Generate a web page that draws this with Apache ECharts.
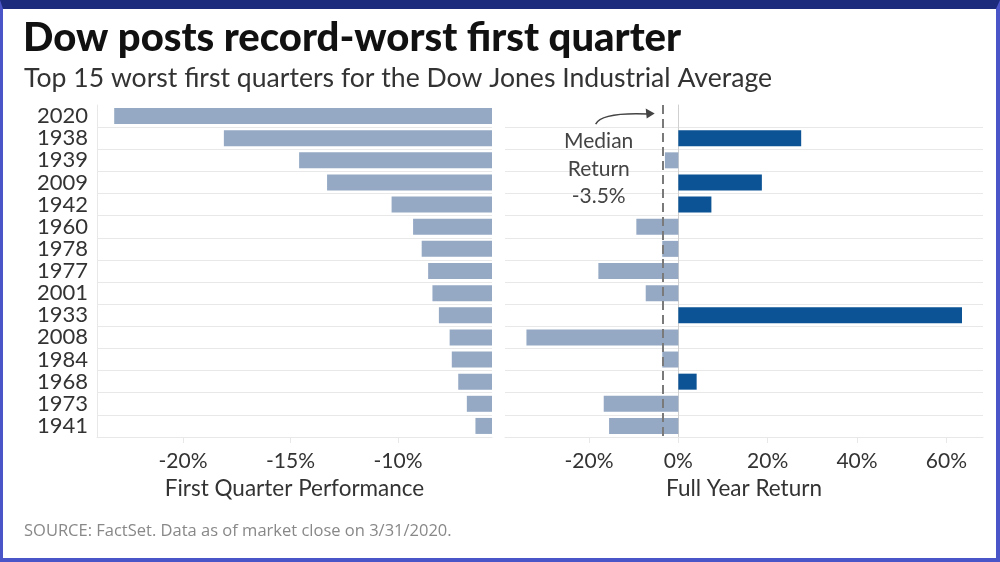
<!DOCTYPE html>
<html>
<head>
<meta charset="utf-8">
<script src="https://cdn.jsdelivr.net/npm/echarts@6/dist/echarts.min.js"></script>
<style>
html,body{margin:0;padding:0;background:#fff;}
#chart{width:1000px;height:562px;}
</style>
</head>
<body>
<div id="chart"></div>
<script>
const years = ['2020','1938','1939','2009','1942','1960','1978','1977','2001','1933','2008','1984','1968','1973','1941'];
const firstQuarter = [-23.2,-18.1,-14.6,-13.3,-10.3,-9.3,-8.9,-8.6,-8.4,-8.1,-7.6,-7.5,-7.2,-6.8,-6.4];
const fullYear = [null,27.5,-3.0,18.7,7.4,-9.4,-3.6,-17.9,-7.3,63.5,-34.0,-3.6,4.1,-16.7,-15.5];
const medianReturn = -3.5;
const leftTicks = [-20,-15,-10];
const rightTicks = [-20,0,20,40,60];
const title = 'Dow posts record-worst first quarter';
const subtitle = 'Top 15 worst first quarters for the Dow Jones Industrial Average';
const source = 'SOURCE: FactSet. Data as of market close on 3/31/2020.';

const POS = '#0b5394', NEG = '#95a9c4';
const FONT = 'Lato, "Open Sans", sans-serif';
const GRID_LINE = '#e8e8e8';

const chart = echarts.init(document.getElementById('chart'));
const option = {
  animation: false,
  backgroundColor: '#fff',
  title: [
    {text: title, left: 18, top: 13, textStyle: {fontFamily: FONT, fontSize: 40, fontWeight: 900, color: '#111'}},
    {text: subtitle, left: 19, top: 60, textStyle: {fontFamily: FONT, fontSize: 26.6, fontWeight: 'normal', color: '#333'}},
    {text: source, left: 19, top: 518, textStyle: {fontFamily: '"Open Sans", sans-serif', fontSize: 16.5, fontWeight: 'normal', color: '#888'}}
  ],
  grid: [
    {left: 97, right: 508, top: 105, height: 332},
    {left: 505, right: 17, top: 105, height: 332}
  ],
  xAxis: [
    {type: 'value', gridIndex: 0, min: -24, max: -5.63,
     name: 'First Quarter Performance', nameLocation: 'middle', nameGap: 40,
     nameTextStyle: {fontFamily: FONT, fontSize: 22.5, color: '#333'},
     axisLine: {show: true, lineStyle: {color: GRID_LINE}},
     axisTick: {show: true, length: 6, customValues: leftTicks, lineStyle: {color: GRID_LINE}},
     axisLabel: {customValues: leftTicks, formatter: v => v + '%', margin: 14, fontFamily: FONT, fontSize: 21, color: '#333'},
     splitLine: {show: false}},
    {type: 'value', gridIndex: 1, min: -38.8, max: 68.2,
     name: 'Full Year Return', nameLocation: 'middle', nameGap: 40,
     nameTextStyle: {fontFamily: FONT, fontSize: 22.5, color: '#333'},
     axisLine: {show: true, onZero: false, lineStyle: {color: GRID_LINE}},
     axisTick: {show: true, length: 6, customValues: rightTicks, lineStyle: {color: GRID_LINE}},
     axisLabel: {customValues: rightTicks, formatter: v => v + '%', margin: 14, fontFamily: FONT, fontSize: 21, color: '#333'},
     splitLine: {show: false}}
  ],
  yAxis: [
    {type: 'category', gridIndex: 0, data: years, inverse: true,
     axisLine: {show: true, onZero: false, lineStyle: {color: GRID_LINE}},
     axisTick: {show: false},
     axisLabel: {interval: 0, margin: 9, fontFamily: FONT, fontSize: 22, color: '#333'},
     splitLine: {show: true, showMinLine: false, showMaxLine: false, lineStyle: {color: GRID_LINE}}},
    {type: 'category', gridIndex: 1, data: years, inverse: true,
     axisLine: {show: true, onZero: true, lineStyle: {color: '#d0d0d0'}},
     axisTick: {show: false},
     axisLabel: {show: false},
     splitLine: {show: true, showMinLine: false, showMaxLine: false, lineStyle: {color: GRID_LINE}}}
  ],
  series: [
    {type: 'bar', xAxisIndex: 0, yAxisIndex: 0, barWidth: 16, clip: true,
     itemStyle: {color: NEG}, data: firstQuarter},
    {type: 'bar', xAxisIndex: 1, yAxisIndex: 1, barWidth: 16, clip: true,
     data: fullYear.map(v => ({value: v, itemStyle: {color: v != null && v >= 0 ? POS : NEG}})),
     markLine: {silent: true, symbol: 'none', label: {show: false},
       lineStyle: {color: '#7a7a7a', type: [9, 5], width: 2},
       data: [{xAxis: medianReturn}]}}
  ]
};
chart.setOption(option);

// Annotation anchored to the median line
const mx = chart.convertToPixel({xAxisIndex: 1}, medianReturn);
const topY = chart.convertToPixel({yAxisIndex: 1}, '2020');
const tx = mx - 64;
chart.setOption({
  graphic: [
    {type: 'text', x: tx, y: topY + 53, style: {text: 'Median\nReturn\n-3.5%', fill: '#444', font: '21px ' + FONT, align: 'center', verticalAlign: 'middle', lineHeight: 27.5}},
    {type: 'bezierCurve', shape: {x1: tx - 3, y1: topY + 8, cpx1: tx + 3, cpy1: topY - 4, x2: mx - 14, y2: topY - 2},
     style: {stroke: '#444', lineWidth: 1.5, fill: null}},
    {type: 'polygon', shape: {points: [[mx - 8, topY - 2.5], [mx - 17, topY - 7.5], [mx - 16, topY + 2.5]]}, style: {fill: '#444'}}
  ]
});
</script>
<div style="position:absolute;left:0;top:0;width:1000px;height:562px;pointer-events:none;box-sizing:border-box;border-left:3px solid #4a55c8;border-right:4px solid #4a55c8;border-bottom:4px solid #4a55c8;border-top:9px solid #1d2b7d;"></div>
</body>
</html>
